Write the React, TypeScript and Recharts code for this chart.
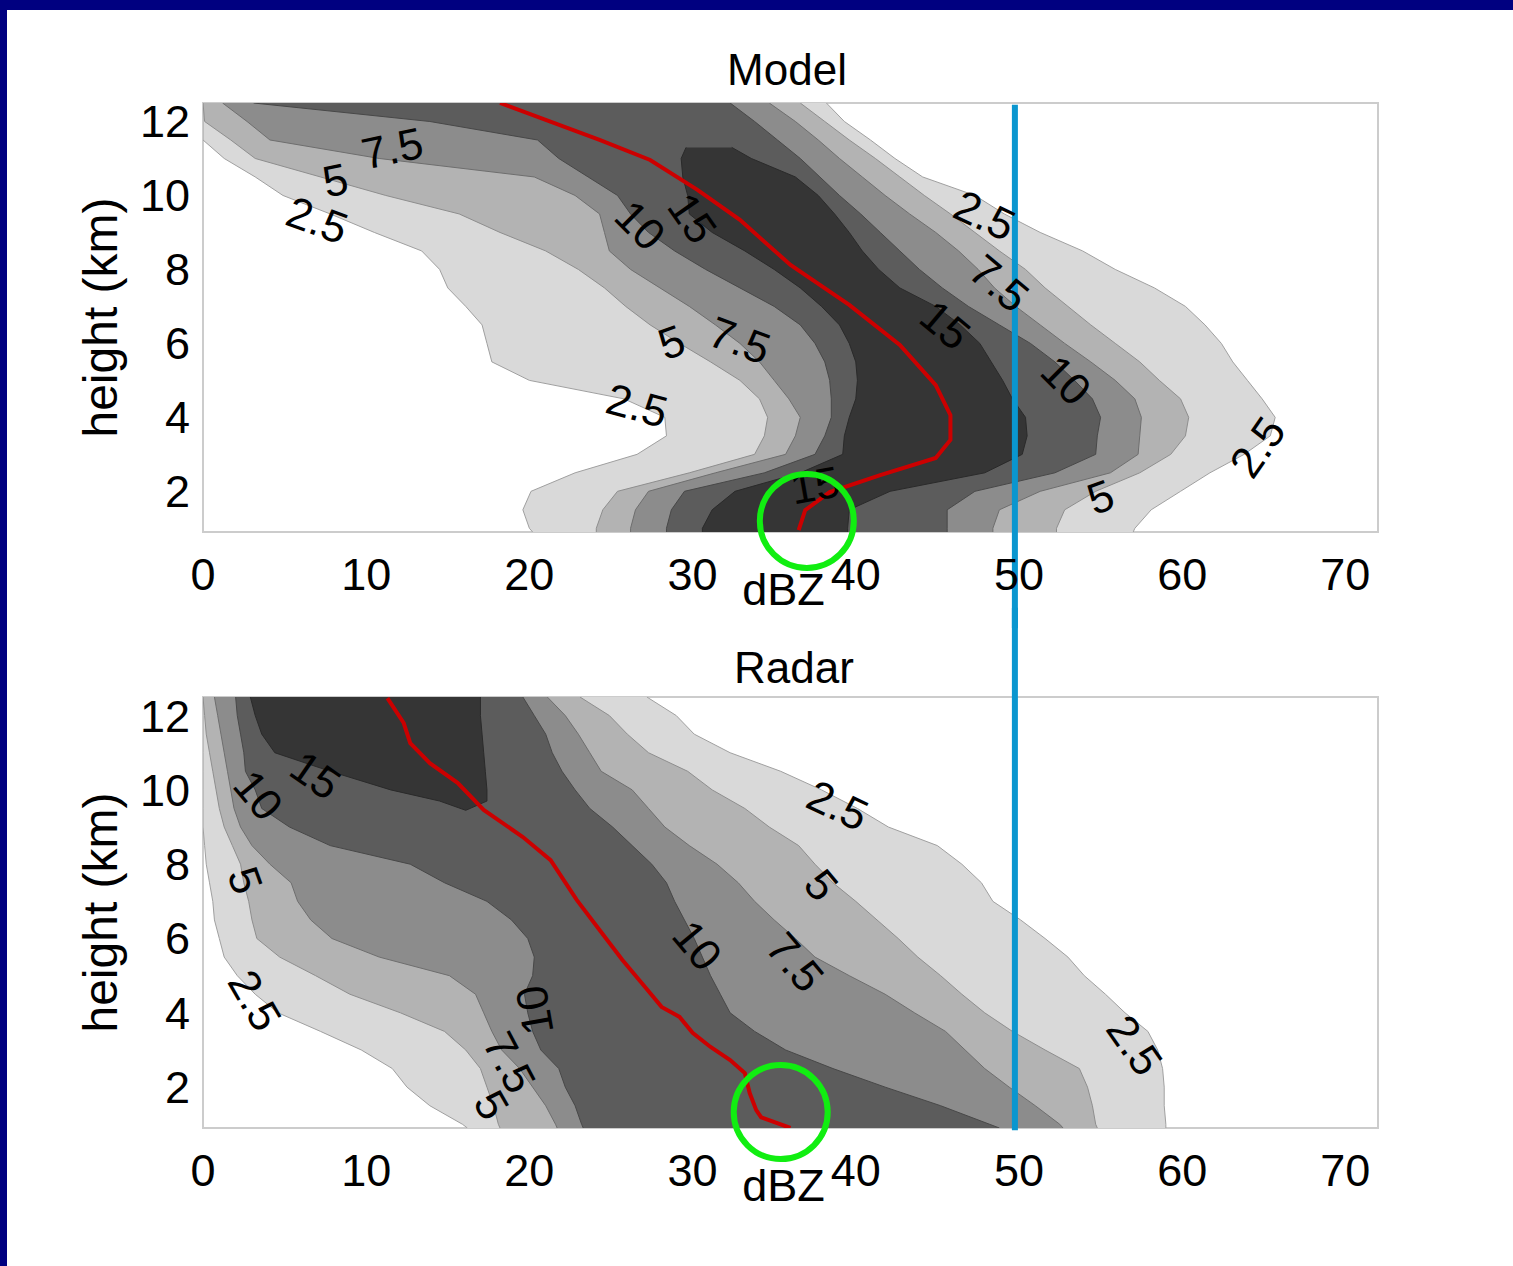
import React from 'react';
import {
  ComposedChart,
  Area,
  Line,
  Scatter,
  XAxis,
  YAxis,
  ReferenceLine,
  ReferenceDot,
  ReferenceArea,
} from 'recharts';

const FONT = '"Liberation Sans", Arial, Helvetica, sans-serif';

const xTicks = [0, 10, 20, 30, 40, 50, 60, 70];
const yTicks = [2, 4, 6, 8, 10, 12];

// contour levels (frequency %), lightest first
const levels = ['2.5', '5', '7.5', '10', '15'];
const fills = ['#d9d9d9', '#b3b3b3', '#8c8c8c', '#5c5c5c', '#353535'];
const edges = ['#a0a0a0', '#8e8e8e', '#6e6e6e', '#484848', '#2a2a2a'];

// heights (km) used for the contour outlines
const heights = [12.5, 12, 11.5, 11, 10.5, 10, 9.5, 9, 8.5, 8, 7.5, 7, 6.5, 6, 5.5, 5, 4.5, 4, 3.5, 3, 2.5, 2, 1.5, 1, 0.9];

// ---- Model: left / right edge of each contour (dBZ) ----
const m25lo = [0, 0, 0, 1.3, 3.2, 4.9, 7.8, 10.5, 13.4, 14.5, 15.0, 16.1, 17.1, 17.4, 17.7, 20.0, 25.8, 28.3, 28.4, 26.6, 22.8, 20.1, 19.6, 20.0, 20.2];
const m25hi = [38.2, 39.3, 40.9, 42.4, 44.1, 47.3, 49.1, 51.3, 53.9, 55.9, 58.3, 60.2, 61.4, 62.4, 63.1, 64.0, 64.9, 65.7, 65.4, 63.8, 61.7, 59.9, 58.1, 57.1, 57.0];
const m5lo = [0, 0.1, 1.7, 3.2, 7.2, 11.2, 15.7, 18.2, 21.0, 23.0, 24.6, 25.9, 27.4, 29.2, 31.1, 32.9, 34.1, 34.6, 34.4, 33.8, 29.8, 25.4, 24.5, 24.1, 24.1];
const m5hi = [36.6, 38.1, 39.6, 41.2, 42.7, 44.2, 45.8, 47.3, 48.8, 50.4, 51.6, 53.0, 54.4, 55.9, 57.4, 58.6, 59.9, 60.4, 60.2, 59.3, 57.4, 54.7, 52.8, 52.3, 52.3];
const m75lo = [1.2, 2.7, 4.1, 10.8, 20.3, 22.8, 24.3, 24.6, 24.9, 26.2, 28.0, 29.8, 31.4, 32.9, 34.1, 35.0, 35.9, 36.6, 36.3, 35.7, 31.4, 27.3, 26.5, 26.2, 26.2];
const m75hi = [34.7, 36.3, 37.7, 39.0, 40.4, 41.8, 43.3, 44.9, 46.3, 47.5, 48.5, 49.8, 51.3, 52.8, 54.4, 55.9, 57.1, 57.5, 57.4, 57.3, 55.6, 51.3, 48.8, 48.4, 48.4];
const m10lo = [3.1, 13.9, 20.5, 21.8, 23.6, 25.4, 26.2, 27.3, 28.9, 30.8, 32.9, 35.0, 36.6, 37.5, 38.1, 38.4, 38.5, 38.5, 38.1, 37.5, 34.4, 29.5, 28.7, 28.4, 28.4];
const m10hi = [32.3, 33.8, 35.2, 36.6, 37.8, 39.0, 40.3, 41.5, 42.7, 43.9, 45.3, 46.9, 48.8, 50.7, 52.2, 53.4, 54.5, 55.0, 54.8, 54.7, 52.2, 47.3, 45.6, 45.6, 45.6];
const m15h = [11.3, 11, 10.5, 10, 9.5, 9, 8.5, 8, 7.5, 7, 6.5, 6, 5.5, 5, 4.5, 4, 3.5, 3, 2.5, 2, 1.5, 1, 0.9];
const m15lo = [29.6, 29.3, 29.4, 29.7, 29.8, 31.2, 33.2, 35.0, 36.6, 37.9, 39.0, 39.6, 40.0, 40.1, 40.0, 39.6, 39.3, 39.2, 36.6, 32.6, 31.2, 30.6, 30.6];
const m15hi = [32.4, 33.6, 36.3, 37.7, 38.7, 39.6, 40.4, 41.4, 42.7, 44.9, 46.4, 47.6, 48.3, 49.0, 49.6, 50.4, 50.5, 50.2, 47.9, 42.1, 39.6, 39.5, 39.5];

const modelMeanX = [18.2, 24.3, 27.4, 30.3, 32.9, 36.0, 39.6, 42.7, 44.9, 45.8, 45.8, 44.9, 41.5, 38.4, 36.9, 36.5];
const modelMeanH = [12.5, 11.5, 10.96, 10.15, 9.34, 8.12, 7.04, 5.96, 4.87, 4.06, 3.39, 2.9, 2.44, 1.98, 1.49, 0.95];

const modelLabelText = ['7.5', '5', '2.5', '10', '15', '2.5', '7.5', '15', '5', '7.5', '10', '2.5', '2.5', '5', '15'];
const modelLabelX = [11.6, 8.1, 7.0, 26.8, 30.0, 47.9, 48.8, 45.5, 28.7, 32.9, 52.9, 26.6, 64.6, 55.0, 37.5];
const modelLabelH = [11.28, 10.42, 9.34, 9.2, 9.39, 9.47, 7.63, 6.5, 6.04, 6.09, 5.01, 4.33, 3.2, 1.85, 2.17];
const modelLabelAngle = [-12, -12, 20, 45, 55, 25, 40, 40, -20, 20, 45, 15, -55, -20, -10];

// ---- Radar ----
const r25lo = [0, 0, 0, 0, 0, 0, 0, 0, 0.1, 0.2, 0.4, 0.6, 0.7, 1.0, 1.3, 2.1, 3.2, 4.6, 7.2, 9.7, 11.6, 12.5, 13.9, 15.9, 16.2];
const r25hi = [27.2, 29.0, 30.1, 32.3, 35.4, 37.9, 40.1, 42.0, 45.0, 46.5, 47.7, 48.4, 50.1, 51.6, 53.0, 54.0, 55.3, 56.5, 57.9, 58.5, 58.8, 58.9, 58.9, 59.0, 59.0];
const r5lo = [0, 0.1, 0.2, 0.4, 0.6, 0.8, 1.0, 1.3, 1.8, 2.3, 2.5, 2.8, 3.0, 3.3, 4.7, 6.9, 9.0, 12.1, 14.8, 16.1, 17.0, 17.4, 17.8, 18.1, 18.2];
const r5hi = [23.1, 24.9, 26.0, 27.3, 29.7, 31.2, 33.2, 34.7, 36.5, 37.5, 38.6, 40.0, 41.3, 42.6, 43.8, 45.2, 46.5, 47.9, 49.6, 51.6, 53.7, 54.2, 54.5, 54.7, 54.8];
const r75lo = [0.7, 0.9, 1.1, 1.3, 1.5, 1.7, 1.9, 2.3, 3.0, 4.1, 5.4, 5.8, 6.6, 7.9, 10.8, 15.1, 16.7, 17.2, 17.7, 18.3, 19.4, 20.2, 21.0, 21.6, 21.7];
const r75hi = [21.1, 22.2, 23.0, 23.7, 24.4, 26.3, 27.3, 28.3, 29.8, 31.5, 32.8, 33.8, 35.0, 36.3, 37.5, 39.6, 41.8, 43.6, 45.5, 46.7, 47.9, 49.4, 51.0, 52.5, 52.7];
const r10lo = [2.0, 2.1, 2.3, 2.5, 2.6, 3.2, 3.6, 5.3, 7.8, 12.7, 14.8, 17.4, 18.9, 19.9, 20.3, 20.2, 19.7, 19.9, 20.2, 20.7, 21.8, 22.2, 22.8, 23.2, 23.3];
const r10hi = [19.6, 20.3, 21.0, 21.4, 22.0, 22.8, 23.7, 25.1, 26.3, 27.5, 28.4, 28.9, 29.5, 30.1, 30.6, 31.1, 31.7, 32.3, 33.8, 35.7, 38.6, 41.8, 45.2, 48.2, 48.8];
const r15h = [12.5, 12, 11.5, 11, 10.5, 10, 9.7, 9.45];
const r15lo = [2.9, 3.2, 3.6, 4.4, 7.8, 11.5, 14.5, 16.1];
const r15hi = [17.0, 17.0, 17.1, 17.2, 17.3, 17.4, 17.4, 16.1];

const radarMeanX = [11.3, 12.3, 12.7, 13.9, 15.6, 17.2, 19.6, 21.3, 22.9, 24.3, 25.7, 27.1, 28.1, 29.2, 30.0, 31.1, 32.3, 33.2, 33.5, 33.9, 34.2, 36.0];
const radarMeanH = [12.47, 11.8, 11.26, 10.72, 10.19, 9.46, 8.73, 8.11, 7.04, 6.23, 5.42, 4.69, 4.16, 3.89, 3.46, 3.08, 2.73, 2.38, 1.84, 1.38, 1.19, 0.9];

const radarLabelText = ['15', '10', '5', '2.5', '10', '7.5', '5', '2.5', '5', '10', '7.5', '2.5'];
const radarLabelX = [6.9, 3.4, 2.6, 3.2, 20.3, 18.8, 17.7, 38.9, 37.9, 30.3, 36.3, 57.1];
const radarLabelH = [10.4, 9.86, 7.57, 4.34, 4.07, 2.67, 1.52, 9.59, 7.44, 5.82, 5.37, 3.13];
const radarLabelAngle = [35, 50, 70, 60, -100, 62, 60, 25, 50, 50, 50, 55];

// circled surface values and the 50 dBZ marker
const modelRing = [37.0, 1.2];
const radarRing = [35.4, 1.33];
const markerDbz = 49.75;

const band = (hs: number[], lo: number[], hi: number[]) => hs.map((h, i) => ({ h, v: [lo[i], hi[i]] }));
const profile = (hs: number[], xs: number[]) => hs.map((h, i) => ({ h, x: xs[i] }));
const tags = (t: string[], xs: number[], hs: number[], a: number[]) => t.map((s, i) => ({ t: s, x: xs[i], h: hs[i], a: a[i] }));

const modelBands = [
  band(heights, m25lo, m25hi),
  band(heights, m5lo, m5hi),
  band(heights, m75lo, m75hi),
  band(heights, m10lo, m10hi),
  band(m15h, m15lo, m15hi),
];
const radarBands = [
  band(heights, r25lo, r25hi),
  band(heights, r5lo, r5hi),
  band(heights, r75lo, r75hi),
  band(heights, r10lo, r10hi),
  band(r15h, r15lo, r15hi),
];

const ContourText = (props: any) => {
  const { cx, cy, payload } = props;
  if (cx == null || cy == null) return null;
  return (
    <text
      x={cx}
      y={cy}
      transform={`rotate(${payload.a} ${cx} ${cy})`}
      textAnchor="middle"
      dominantBaseline="central"
      fontSize={44}
      fontFamily={FONT}
      fill="#000"
    >
      {payload.t}
    </text>
  );
};

const tickStyle = { fontSize: 45, fill: '#000', fontFamily: FONT };

function Panel(props: any) {
  const { top, bottomMargin, bands, mean, labels, ring, blue } = props;
  return (
    <div style={{ position: 'absolute', left: 0, top }}>
      <ComposedChart
        layout="vertical"
        width={1513}
        height={640}
        margin={{ top: 103, right: 135, bottom: bottomMargin, left: 0 }}
      >
        <XAxis
          type="number"
          domain={[0, 72]}
          ticks={xTicks}
          allowDataOverflow
          axisLine={false}
          tickLine={false}
          tickSize={0}
          tickMargin={26}
          height={80}
          tick={tickStyle}
          label={{ value: 'dBZ', position: 'insideBottom', offset: 7, dx: -7, fontSize: 45, fill: '#000', fontFamily: FONT }}
        />
        <YAxis
          type="number"
          dataKey="h"
          domain={[0.9, 12.5]}
          reversed
          ticks={yTicks}
          allowDataOverflow
          axisLine={false}
          tickLine={false}
          tickSize={0}
          tickMargin={13}
          width={203}
          tick={tickStyle}
          label={{ value: 'height (km)', angle: -90, position: 'center', dx: -2, fontSize: 48, fill: '#000', fontFamily: FONT }}
        />
        <ReferenceArea x1={0} x2={72} y1={0.9} y2={12.5} fill="none" stroke="#cccccc" strokeWidth={2} />
        {bands.map((d: any, i: number) => (
          <Area
            key={levels[i]}
            data={d}
            dataKey="v"
            type="linear"
            fill={fills[i]}
            fillOpacity={1}
            stroke={edges[i]}
            strokeWidth={1}
            dot={false}
            activeDot={false}
            isAnimationActive={false}
          />
        ))}
        <Line data={mean} dataKey="x" type="linear" stroke="#cc0000" strokeWidth={4} dot={false} activeDot={false} isAnimationActive={false} />
        <Scatter data={labels} dataKey="x" shape={ContourText} isAnimationActive={false} />
        <ReferenceDot x={ring[0]} y={ring[1]} r={47} fill="none" stroke="#11ee11" strokeWidth={6} ifOverflow="visible" />
        <ReferenceLine
          segment={[{ x: markerDbz, y: blue[0] }, { x: markerDbz, y: blue[1] }]}
          stroke="#0a96cf"
          strokeWidth={6}
          ifOverflow="visible"
        />
      </ComposedChart>
    </div>
  );
}

const titleStyle: React.CSSProperties = {
  position: 'absolute',
  width: 400,
  textAlign: 'center',
  fontFamily: FONT,
  fontSize: 44,
  lineHeight: '50px',
  color: '#000',
};

export default function App() {
  return (
    <div style={{ position: 'absolute', left: 0, top: 0, width: 1513, height: 1266, background: '#000080', overflow: 'hidden' }}>
      <div style={{ position: 'absolute', left: 7, top: 10, width: 1506, height: 1256, background: '#ffffff' }} />
      <div style={{ ...titleStyle, left: 587, top: 45 }}>Model</div>
      <div style={{ ...titleStyle, left: 594, top: 643 }}>Radar</div>
      <Panel
        top={0}
        bottomMargin={28}
        bands={modelBands}
        mean={profile(modelMeanH, modelMeanX)}
        labels={tags(modelLabelText, modelLabelX, modelLabelH, modelLabelAngle)}
        ring={modelRing}
        blue={[12.45, -1.7]}
      />
      <Panel
        top={594}
        bottomMargin={26}
        bands={radarBands}
        mean={profile(radarMeanH, radarMeanX)}
        labels={tags(radarLabelText, radarLabelX, radarLabelH, radarLabelAngle)}
        ring={radarRing}
        blue={[14.9, 0.84]}
      />
    </div>
  );
}
